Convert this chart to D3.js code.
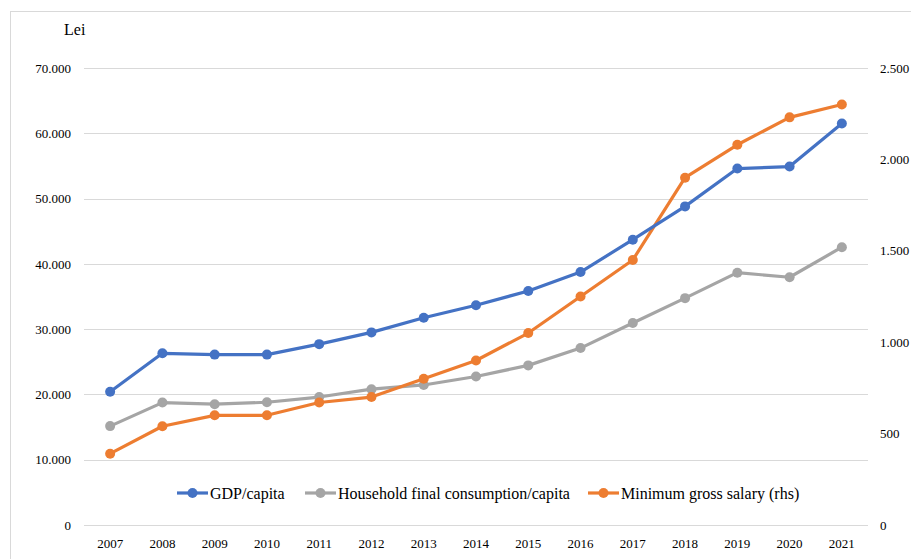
<!DOCTYPE html>
<html><head><meta charset="utf-8">
<script src="https://cdn.jsdelivr.net/npm/d3@7"></script>
<style>body{margin:0;background:#fff}svg{display:block}
svg text{font-family:"Liberation Serif","Times New Roman","DejaVu Serif",serif !important}</style>
</head><body>
<script>
const years = ["2007","2008","2009","2010","2011","2012","2013","2014","2015","2016","2017","2018","2019","2020","2021"];
const gdp = [20400,26300,26100,26100,27700,29500,31750,33650,35850,38750,43700,48800,54600,54900,61500];
const household = [15150,18750,18500,18800,19600,20800,21450,22750,24450,27100,30950,34750,38650,37950,42550];
const minSalary = [390,540,600,600,670,700,800,900,1050,1250,1450,1900,2080,2230,2300];
const leftTicks = [0,10000,20000,30000,40000,50000,60000,70000];
const rightTicks = [0,500,1000,1500,2000,2500];
const seriesNames = ["GDP/capita","Household final consumption/capita","Minimum gross salary (rhs)"];
const colors = ["#4472C4","#A5A5A5","#ED7D31"];

const W=911,H=559;
const svg=d3.select("body").append("svg").attr("width",W).attr("height",H);
svg.append("rect").attr("x",10.5).attr("y",11.5).attr("width",W).attr("height",H)
  .attr("fill","#fff").attr("stroke","#d9d9d9");

const x=d3.scaleBand().domain(years).range([84,868]);
const yL=d3.scaleLinear().domain([0,70000]).range([525,68]);
const yR=d3.scaleLinear().domain([0,2500]).range([525,68]);
const fmt=v=>d3.format(",")(v).replace(/,/g,".");

svg.append("g").selectAll("line").data(leftTicks).join("line")
  .attr("x1",84).attr("x2",868).attr("y1",d=>Math.round(yL(d))+0.5).attr("y2",d=>Math.round(yL(d))+0.5)
  .attr("stroke","#d9d9d9").attr("stroke-width",1);

const gl=svg.append("g").attr("transform","translate(84,0)")
  .call(d3.axisLeft(yL).tickValues(leftTicks).tickFormat(fmt).tickSize(0).tickPadding(13));
gl.select(".domain").remove();
gl.selectAll("text").attr("font-size",13).attr("fill","#000");

const gr=svg.append("g").attr("transform","translate(868,0)")
  .call(d3.axisRight(yR).tickValues(rightTicks).tickFormat(fmt).tickSize(0).tickPadding(12));
gr.select(".domain").remove();
gr.selectAll("text").attr("font-size",13).attr("fill","#000");

const gx=svg.append("g").attr("transform","translate(0,525)")
  .call(d3.axisBottom(x).tickSize(0).tickPadding(14));
gx.select(".domain").remove();
gx.selectAll("text").attr("font-size",13).attr("fill","#000");

svg.append("text").attr("x",64).attr("y",35).text("Lei").attr("font-size",16).attr("fill","#000");

const cx=d=>x(d)+x.bandwidth()/2;
const series=[
  {vals:gdp,y:yL,c:colors[0]},
  {vals:household,y:yL,c:colors[1]},
  {vals:minSalary,y:yR,c:colors[2]}
];
[1,2,0].forEach(i=>{
  const s=series[i];
  const data=years.map((yr,j)=>({yr,v:s.vals[j]}));
  svg.append("path").datum(data).attr("fill","none").attr("stroke",s.c).attr("stroke-width",3.2)
    .attr("stroke-linejoin","round")
    .attr("d",d3.line().x(d=>cx(d.yr)).y(d=>s.y(d.v)));
  svg.append("g").selectAll("circle").data(data).join("circle")
    .attr("cx",d=>cx(d.yr)).attr("cy",d=>s.y(d.v)).attr("r",5).attr("fill",s.c);
});

const legX=[177,305,588];
const lg=svg.append("g");
seriesNames.forEach((n,i)=>{
  const g=lg.append("g").attr("transform",`translate(${legX[i]},493)`);
  g.append("line").attr("x1",0).attr("x2",31).attr("stroke",colors[i]).attr("stroke-width",3.2);
  g.append("circle").attr("cx",15.5).attr("r",5).attr("fill",colors[i]);
  g.append("text").attr("x",33).attr("y",6).text(n).attr("font-size",16).attr("fill","#000");
});
</script>
</body></html>
